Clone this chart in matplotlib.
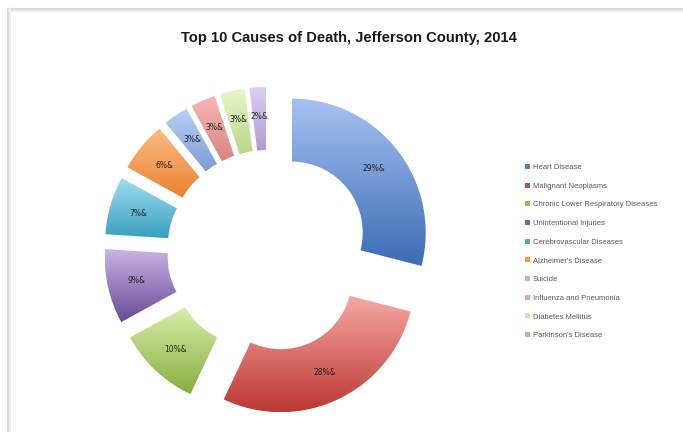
import numpy as np
import matplotlib
matplotlib.use("Agg")
import matplotlib.pyplot as plt
from matplotlib.patches import Patch
from matplotlib.lines import Line2D
from matplotlib.colors import to_rgb

# --- data ---
causes = ["Heart Disease", "Malignant Neoplasms", "Chronic Lower Respiratory Diseases",
          "Unintentional Injuries", "Cerebrovascular Diseases", "Alzheimer's Disease",
          "Suicide", "Influenza and Pneumonia", "Diabetes Mellitus", "Parkinson's Disease"]
shares = [29, 28, 10, 9, 7, 6, 3, 3, 3, 2]
pct_labels = ["29%&", "28%&", "10%&", "9%&", "7%&", "6%&", "3%&", "3%&", "3%&", "2%&"]

# gradient top / bottom colours per wedge, and the legend swatch colour
grad_top = ["#a6c2f2", "#f6a8a4", "#d8efa8", "#c8b4e6", "#a4def0",
            "#fdbb82", "#b9cff5", "#f7b7b5", "#e7f6ca", "#ddcef2"]
grad_bot = ["#3c6cb4", "#bc3834", "#88ad43", "#684a96", "#38a0c0",
            "#e98232", "#7e9dd6", "#da8482", "#bad788", "#b09bd4"]
legend_cols = ["#4f81bd", "#c0504d", "#9bbb59", "#8064a2", "#4bacc6",
               "#f79646", "#a7bde5", "#e8a2a1", "#cfe3a8", "#bbaad8"]

W, H = 683, 432
fig = plt.figure(figsize=(W / 100, H / 100), dpi=100)
ax = fig.add_axes([0, 0, 1, 1])

# chart frame (top + left edge with a soft shadow)
for off, c in [(0, "#d9d9d9"), (1.5, "#ededed")]:
    fig.add_artist(Line2D([9 / W, 1], [1 - (9 + off) / H] * 2, color=c, lw=1.5))
    fig.add_artist(Line2D([(8 + off) / W] * 2, [0, 1 - 9 / H], color=c, lw=1.5))

R = 134
wedges, texts, autotexts = ax.pie(
    shares, radius=R, center=(268, H - 251), explode=[30] * len(shares),
    startangle=90, counterclock=False, autopct="%1.0f%%", pctdistance=0.78,
    wedgeprops=dict(width=63, linewidth=0), frame=True)
ax.set_xlim(0, W)
ax.set_ylim(0, H)
ax.set_aspect("equal")
ax.axis("off")

# vertical gradient inside each wedge
for w, top, bot in zip(wedges, grad_top, grad_bot):
    w.set_facecolor("none")
    ext = w.get_path().get_extents()
    t = np.linspace(0, 1, 64)[:, None]
    c0, c1 = np.array(to_rgb(top)), np.array(to_rgb(bot))
    img = (c0 * (1 - t) + c1 * t)[:, None, :].repeat(2, axis=1)
    im = ax.imshow(img, extent=(ext.x0, ext.x1, ext.y0, ext.y1), origin="upper",
                   aspect="auto", interpolation="bilinear", zorder=1)
    im.set_clip_path(w)

for t, lab in zip(autotexts, pct_labels):
    t.set_text(lab)
    t.set_fontsize(5.5)
    t.set_color("#222222")
    t.set_zorder(3)

ax.text(349, H - 38, "Top 10 Causes of Death, Jefferson County, 2014",
        ha="center", va="center", fontsize=10.6, fontweight="bold",
        family="Liberation Sans", color="#1a1a1a")

handles = [Patch(facecolor=c, edgecolor="none") for c in legend_cols]
leg = ax.legend(handles, causes, loc="upper left",
                bbox_to_anchor=(521 / W, 1 - 160 / H), frameon=False,
                prop=dict(family="Liberation Sans", size=5.5),
                handlelength=0.65, handleheight=0.65,
                handletextpad=0.4, labelspacing=1.5, borderpad=0)
for txt in leg.get_texts():
    txt.set_color("#595959")

fig.savefig("out.png", dpi=100)
